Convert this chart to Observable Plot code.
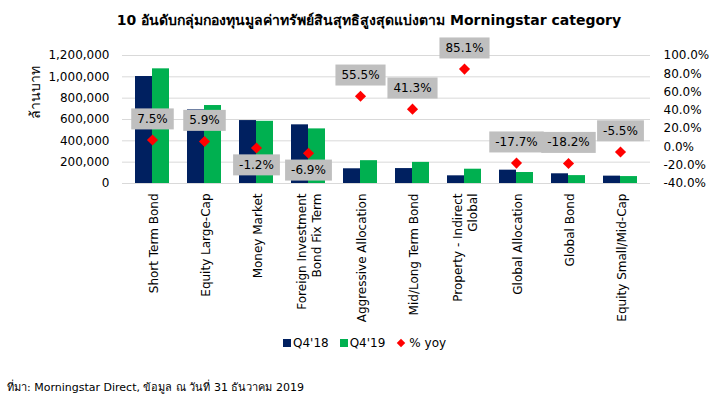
<!DOCTYPE html>
<html>
<head>
<meta charset="utf-8">
<script src="https://cdn.jsdelivr.net/npm/d3@7"></script>
<script src="https://cdn.jsdelivr.net/npm/@observablehq/plot@0.6"></script>
<style>
  html, body { margin: 0; padding: 0; background: #fff; }
  body { font-family: "DejaVu Sans", Tahoma, sans-serif; color: #000; }
  #wrap { position: relative; width: 720px; height: 398px; overflow: hidden; }
  #wrap svg { position: absolute; left: 0; top: 0; }
  #title { position: absolute; left: 0; top: 9px; width: 738px; text-align: center; font-weight: bold; font-size: 14px; white-space: nowrap; }
  #ytitle { position: absolute; left: 35px; top: 92px; transform: translate(-50%, -50%) rotate(-90deg); font-size: 14px; white-space: nowrap; }
  #legend { position: absolute; top: 336px; left: 283px; font-size: 12px; display: flex; align-items: center; white-space: nowrap; }
  #legend .sw { display: inline-block; width: 8px; height: 8px; margin-right: 2px; }
  #legend .item { display: flex; align-items: center; margin-right: 11px; }
  #legend .dia { display: inline-block; width: 6px; height: 6px; background: #FF0000; transform: rotate(45deg); margin: 0 5px 0 2px; }
  #source { position: absolute; left: 7px; top: 378px; font-size: 11px; white-space: nowrap; }
</style>
</head>
<body>
<div id="wrap">
  <div id="title"></div>
  <div id="ytitle"></div>
  <div id="legend"></div>
  <div id="source"></div>
</div>
<script>
// ---- data ----
const titleText = "10 อันดับกลุ่มกองทุนมูลค่าทรัพย์สินสุทธิสูงสุดแบ่งตาม Morningstar category";
const yTitle = "ล้านบาท";
const sourceText = "ที่มา: Morningstar Direct, ข้อมูล ณ วันที่ 31 ธันวาคม 2019";
const categories = [
  "Short Term Bond",
  "Equity Large-Cap",
  "Money Market",
  "Foreign Investment\nBond Fix Term",
  "Aggressive Allocation",
  "Mid/Long Term Bond",
  "Property - Indirect\nGlobal",
  "Global Allocation",
  "Global Bond",
  "Equity Small/Mid-Cap"
];
const seriesNames = ["Q4'18", "Q4'19"];
const q418 = [1003000, 690000, 590000, 550000, 138000, 140000, 72000, 125000, 91000, 69000];
const q419 = [1075000, 731000, 583000, 512000, 214000, 198000, 134000, 103000, 74000, 65000];
const yoyName = "% yoy";
const yoy = [7.5, 5.9, -1.2, -6.9, 55.5, 41.3, 85.1, -17.7, -18.2, -5.5];
const leftTicks = [0, 200000, 400000, 600000, 800000, 1000000, 1200000];
const rightTicks = [-40, -20, 0, 20, 40, 60, 80, 100];

// ---- styling / layout ----
const colors = ["#002060", "#00B050"];
const gridColor = "#D9D9D9";
const labelsBelow = new Set(["Money Market", "Foreign Investment\nBond Fix Term"]);
const W = 720, H = 398;
const M = {top: 55, bottom: 215, left: 122, right: 70};
const padIn = 0.34, padOut = 0.18;
const leftMax = 1200000;
const pctMin = -40, pctMax = 100;
const toLeft = v => (v - pctMin) / (pctMax - pctMin) * leftMax;
const fromLeft = d => d / leftMax * (pctMax - pctMin) + pctMin;

const bars = [];
categories.forEach((c, i) => {
  bars.push({cat: c, series: seriesNames[0], value: q418[i]});
  bars.push({cat: c, series: seriesNames[1], value: q419[i]});
});
const yoyData = categories.map((c, i) => ({cat: c, yoy: yoy[i]}));
const fmtPct = v => v.toFixed(1) + "%";
const labelSet = new Set(yoy.map(fmtPct));
const font = "DejaVu Sans, Tahoma, sans-serif";

// background: grid + axes
const bg = Plot.plot({
  width: W, height: H,
  marginTop: M.top, marginBottom: M.bottom, marginLeft: M.left, marginRight: M.right,
  style: {fontFamily: font, fontSize: "12px", color: "#000", background: "white"},
  x: {domain: categories, type: "band", paddingInner: padIn, paddingOuter: padOut, axis: null},
  y: {domain: [0, leftMax], axis: null},
  marks: [
    Plot.ruleY(leftTicks, {stroke: gridColor, strokeWidth: 1}),
    Plot.axisY(leftTicks, {anchor: "left", tickSize: 0, tickPadding: 13, tickFormat: d3.format(","), label: null, fontSize: 12, fill: "#000"}),
    Plot.axisY(rightTicks.map(toLeft), {anchor: "right", tickSize: 0, tickPadding: 13,
      tickFormat: d => fmtPct(Math.round(fromLeft(d) * 10) / 10 + 0), label: null, fontSize: 12, fill: "#000"})
  ]
});

// foreground: bars, diamonds, labels (faceted by category)
const fg = Plot.plot({
  width: W, height: H,
  marginTop: M.top, marginBottom: M.bottom, marginLeft: M.left, marginRight: M.right,
  style: {fontFamily: font, fontSize: "12px", color: "#000", background: "none"},
  fx: {domain: categories, paddingInner: padIn, paddingOuter: padOut, axis: null},
  x: {domain: seriesNames, padding: 0, axis: null},
  y: {domain: [0, leftMax], axis: null},
  color: {domain: seriesNames, range: colors},
  marks: [
    Plot.barY(bars, {fx: "cat", x: "series", y: "value", fill: "series"}),
    Plot.dot(yoyData, {fx: "cat", y: d => toLeft(d.yoy), symbol: "diamond2", r: 5, fill: "#FF0000", stroke: "none"}),
    Plot.text(yoyData.filter(d => !labelsBelow.has(d.cat)), {fx: "cat", y: d => toLeft(d.yoy), text: d => fmtPct(d.yoy), dy: -21, fontSize: 12, fill: "#000"}),
    Plot.text(yoyData.filter(d => labelsBelow.has(d.cat)), {fx: "cat", y: d => toLeft(d.yoy), text: d => fmtPct(d.yoy), dy: 17, fontSize: 12, fill: "#000"}),
    Plot.text(categories, {fx: d => d, text: d => d, frameAnchor: "bottom", rotate: -90, textAnchor: "end", lineAnchor: "middle", dy: 10, lineHeight: 1.3, fontSize: 12, fill: "#000"})
  ]
});

const wrap = document.getElementById("wrap");
wrap.insertBefore(bg, wrap.firstChild);
wrap.insertBefore(fg, bg.nextSibling);

// grey boxes behind yoy labels
Array.from(fg.querySelectorAll("text")).filter(t => labelSet.has(t.textContent)).forEach(t => {
  const bb = t.getBBox();
  const r = document.createElementNS("http://www.w3.org/2000/svg", "rect");
  r.setAttribute("x", bb.x - 6);
  r.setAttribute("y", bb.y - 3.5);
  r.setAttribute("width", bb.width + 12);
  r.setAttribute("height", bb.height + 7);
  r.setAttribute("fill", "#BFBFBF");
  r.setAttribute("stroke", "none");
  const tr = t.getAttribute("transform");
  if (tr) r.setAttribute("transform", tr);
  t.parentNode.insertBefore(r, t);
});

document.getElementById("title").textContent = titleText;
document.getElementById("ytitle").textContent = yTitle;
document.getElementById("source").textContent = sourceText;
const lg = document.getElementById("legend");
seriesNames.forEach((s, i) => {
  const it = document.createElement("span"); it.className = "item";
  const sw = document.createElement("span"); sw.className = "sw"; sw.style.background = colors[i];
  it.appendChild(sw); it.appendChild(document.createTextNode(s)); lg.appendChild(it);
});
const it = document.createElement("span"); it.className = "item";
const dia = document.createElement("span"); dia.className = "dia";
it.appendChild(dia); it.appendChild(document.createTextNode(yoyName)); lg.appendChild(it);
</script>
</body>
</html>
